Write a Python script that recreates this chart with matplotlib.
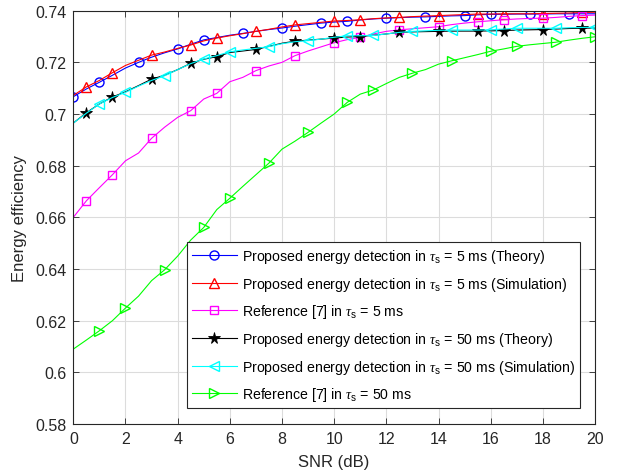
import numpy as np
import matplotlib
matplotlib.use("Agg")
import matplotlib.pyplot as plt
from matplotlib.ticker import FuncFormatter

plt.rcParams['font.family'] = ['Liberation Sans', 'DejaVu Sans']
plt.rcParams['mathtext.fontset'] = 'custom'
plt.rcParams['mathtext.rm'] = 'Liberation Sans'
plt.rcParams['mathtext.it'] = 'Liberation Serif:italic'

# SNR grid (dB), step 0.5
snr = np.arange(0, 20.5, 0.5)

# tau_s = 5 ms
theory_5 = [0.7067, 0.7097, 0.7123, 0.7150, 0.7178, 0.7200, 0.7220, 0.7237, 0.7252, 0.7270,
            0.7287, 0.7296, 0.7305, 0.7312, 0.7320, 0.7327, 0.7333, 0.7340, 0.7346, 0.7352,
            0.7356, 0.7359, 0.7364, 0.7368, 0.7371, 0.7373, 0.7375, 0.7376, 0.7378, 0.7380,
            0.7381, 0.7384, 0.7386, 0.7386, 0.7387, 0.7387, 0.7387, 0.7388, 0.7388, 0.7388, 0.7388]
sim_5 = [0.7072, 0.7105, 0.7130, 0.7160, 0.7188, 0.7208, 0.7228, 0.7240, 0.7254, 0.7267,
         0.7283, 0.7294, 0.7303, 0.7311, 0.7320, 0.7328, 0.7337, 0.7345, 0.7350, 0.7355,
         0.7360, 0.7362, 0.7365, 0.7369, 0.7372, 0.7374, 0.7377, 0.7379, 0.7381, 0.7383,
         0.7385, 0.7387, 0.7387, 0.7388, 0.7388, 0.7388, 0.7389, 0.7390, 0.7391, 0.7393, 0.7394]
ref_5 = [0.6600, 0.6664, 0.6715, 0.6765, 0.6819, 0.6849, 0.6906, 0.6949, 0.6987, 0.7013,
         0.7058, 0.7080, 0.7125, 0.7142, 0.7168, 0.7186, 0.7200, 0.7226, 0.7244, 0.7260,
         0.7276, 0.7288, 0.7297, 0.7310, 0.7320, 0.7326, 0.7330, 0.7334, 0.7338, 0.7346,
         0.7352, 0.7357, 0.7361, 0.7365, 0.7368, 0.7370, 0.7371, 0.7374, 0.7378, 0.7381, 0.7383]

# tau_s = 50 ms
theory_50 = [0.6965, 0.7005, 0.7039, 0.7066, 0.7086, 0.7110, 0.7135, 0.7150, 0.7172, 0.7196,
             0.7212, 0.7222, 0.7238, 0.7244, 0.7250, 0.7262, 0.7274, 0.7282, 0.7286, 0.7290,
             0.7294, 0.7298, 0.7300, 0.7305, 0.7310, 0.7316, 0.7318, 0.7319, 0.7320, 0.7321,
             0.7321, 0.7321, 0.7322, 0.7323, 0.7325, 0.7326, 0.7327, 0.7329, 0.7331, 0.7332, 0.7333]
sim_50 = [0.6965, 0.7003, 0.7039, 0.7064, 0.7084, 0.7108, 0.7130, 0.7148, 0.7172, 0.7195,
          0.7213, 0.7226, 0.7241, 0.7248, 0.7254, 0.7261, 0.7272, 0.7280, 0.7284, 0.7290,
          0.7297, 0.7303, 0.7303, 0.7304, 0.7310, 0.7316, 0.7320, 0.7322, 0.7324, 0.7325,
          0.7325, 0.7325, 0.7326, 0.7329, 0.7332, 0.7332, 0.7332, 0.7332, 0.7334, 0.7335, 0.7336]
ref_50 = [0.6090, 0.6125, 0.6161, 0.6200, 0.6249, 0.6295, 0.6355, 0.6397, 0.6450, 0.6512,
          0.6561, 0.6630, 0.6674, 0.6720, 0.6765, 0.6810, 0.6864, 0.6895, 0.6929, 0.6965,
          0.7000, 0.7045, 0.7077, 0.7093, 0.7118, 0.7142, 0.7158, 0.7172, 0.7193, 0.7206,
          0.7218, 0.7230, 0.7243, 0.7252, 0.7262, 0.7268, 0.7273, 0.7278, 0.7286, 0.7293, 0.7299]

# which grid points carry a marker
mk_a = [0, 2, 5, 8, 10, 13, 16, 19, 21, 24, 27, 30, 32, 35, 38]
mk_b = [1, 3, 6, 9, 11, 14, 17, 20, 22, 25, 28, 31, 33, 36, 39]
mk_c = [2, 4, 7, 10, 12, 15, 18, 21, 23, 26, 29, 32, 34, 37, 40]

labels = [r'Proposed energy detection in $\tau_\mathrm{s}$ = 5 ms (Theory)',
          r'Proposed energy detection in $\tau_\mathrm{s}$ = 5 ms (Simulation)',
          r'Reference [7] in $\tau_\mathrm{s}$ = 5 ms',
          r'Proposed energy detection in $\tau_\mathrm{s}$ = 50 ms (Theory)',
          r'Proposed energy detection in $\tau_\mathrm{s}$ = 50 ms (Simulation)',
          r'Reference [7] in $\tau_\mathrm{s}$ = 50 ms']

fig = plt.figure(figsize=(6.24, 4.77), dpi=100)
ax = fig.add_axes([0.1175, 0.109, 0.8361, 0.8665])

lw = 0.8
ms = 6.5
ax.plot(snr, theory_5, color=(0, 0, 1), lw=lw, marker='o', ms=ms, mfc='none', mew=1, markevery=mk_a, label=labels[0])
ax.plot(snr, sim_5, color=(1, 0, 0), lw=lw, marker='^', ms=ms + 1, mfc='none', mew=1, markevery=mk_b, label=labels[1])
ax.plot(snr, ref_5, color=(1, 0, 1), lw=lw, marker='s', ms=ms - 1, mfc='none', mew=1, markevery=mk_b, label=labels[2])
ax.plot(snr, theory_50, color='k', lw=lw, marker='*', ms=ms + 2, mfc='k', mew=0.6, markevery=mk_b, label=labels[3])
ax.plot(snr, sim_50, color=(0, 1, 1), lw=lw, marker='<', ms=ms + 1, mfc='none', mew=1, markevery=mk_c, label=labels[4])
ax.plot(snr, ref_50, color=(0, 1, 0), lw=lw, marker='>', ms=ms + 1, mfc='none', mew=1, markevery=mk_c, label=labels[5])

ax.set_xlim(0, 20)
ax.set_ylim(0.58, 0.74)
ax.set_xticks(np.arange(0, 21, 2))
ax.set_yticks(np.arange(0.58, 0.7401, 0.02))
ax.yaxis.set_major_formatter(FuncFormatter(lambda v, p: '{:g}'.format(round(v, 2))))
ax.grid(True, color='#dcdcdc', lw=0.8)
ax.set_axisbelow(True)
ax.tick_params(direction='in', top=True, right=True, labelsize=11.5, colors='#262626',
               length=4, width=0.6, pad=5)
for s in ax.spines.values():
    s.set_color('#262626')
    s.set_linewidth(0.8)

ax.set_xlabel('SNR (dB)', fontsize=12, color='#262626', labelpad=6)
ax.set_ylabel('Energy efficiency', fontsize=12, color='#262626', labelpad=6)

leg = ax.legend(loc='lower right', bbox_to_anchor=(0.971, 0.038), fontsize=10.2, fancybox=False,
                framealpha=1, edgecolor='#262626', handlelength=3.2, handletextpad=0.35,
                labelspacing=0.68, borderpad=0.35, borderaxespad=0)
leg.get_frame().set_linewidth(0.8)

fig.savefig('out.png', dpi=100)
